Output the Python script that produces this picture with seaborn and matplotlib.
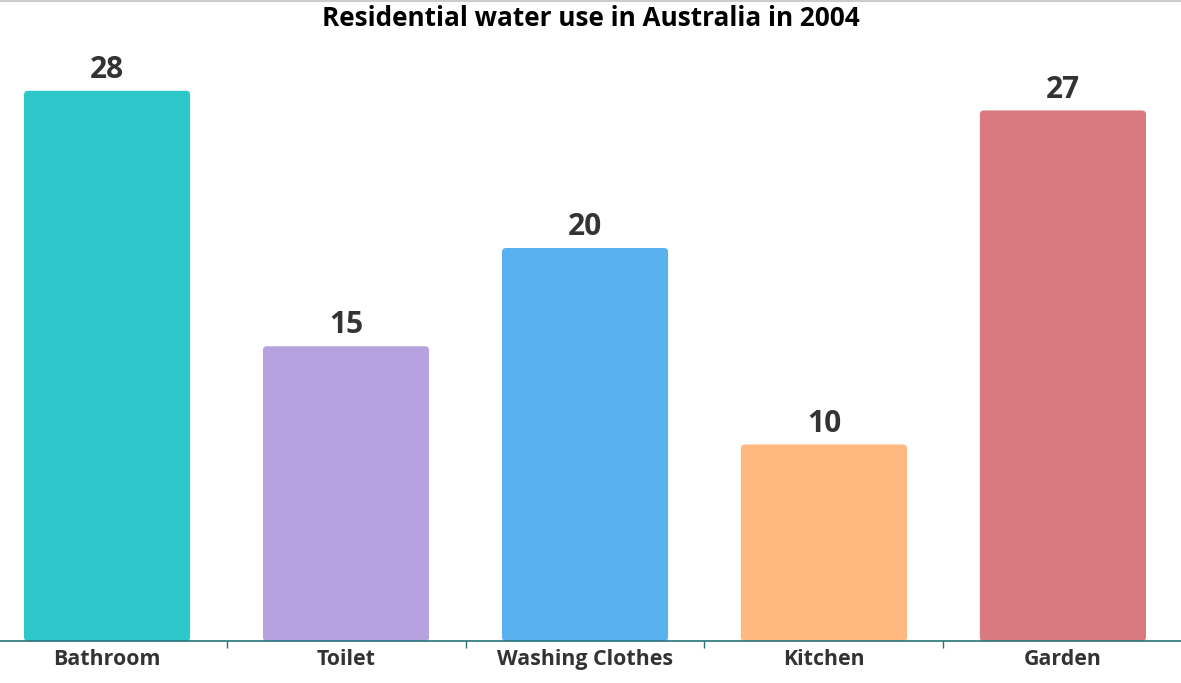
import matplotlib
matplotlib.use("Agg")
import matplotlib.pyplot as plt
from matplotlib.patches import FancyBboxPatch
from matplotlib.lines import Line2D
import seaborn as sns
import pandas as pd

categories = ["Bathroom", "Toilet", "Washing Clothes", "Kitchen", "Garden"]
values = [28, 15, 20, 10, 27]
colors = ["#2EC7C9", "#B6A2DE", "#5AB1EF", "#FFB980", "#D87A80"]

sns.set_theme(style="white")
plt.rcParams["font.family"] = ["Open Sans", "DejaVu Sans"]

df = pd.DataFrame({"category": categories, "value": values})

W, H = 1181, 683
fig = plt.figure(figsize=(W / 100, H / 100), dpi=100)
ax = fig.add_axes([0, 42 / H, 1, (641 - 35) / H])

sns.barplot(data=df, x="category", y="value", hue="category", palette=colors,
            width=0.695, legend=False, saturation=1, ax=ax)

ax.set_xlim(-0.448, 4.494)
ax.set_ylim(0, (641 - 35) / 19.65)

# swap plain rectangles for rounded ones
px_x = 1 / 239.0
px_y = 1 / 19.65
for bar, c in zip(list(ax.patches), colors):
    x, w, h = bar.get_x(), bar.get_width(), bar.get_height()
    bar.remove()
    rp = FancyBboxPatch((x, 0), w, h,
                        boxstyle=f"round,pad=0,rounding_size={4 * px_x}",
                        mutation_aspect=px_y / px_x,
                        facecolor=c, edgecolor="none", zorder=2)
    ax.add_patch(rp)
    ax.text(x + w / 2, h + 0.3, f"{h:g}", ha="center", va="bottom",
            fontsize=21.5, fontweight="bold", color="#333333")

for s in ["top", "right", "left"]:
    ax.spines[s].set_visible(False)
ax.spines["bottom"].set_color("#27727B")
ax.spines["bottom"].set_linewidth(1.2)
ax.spines["bottom"].set_zorder(3)

ax.set_yticks([])
ax.set_xlabel("")
ax.set_ylabel("")
ax.set_xticks([0, 1, 2, 3, 4])
ax.set_xticklabels(categories, fontsize=15.4, fontweight="bold", color="#333333")
ax.tick_params(axis="x", length=0, pad=6)
# separator ticks between categories
ax.set_xticks([0.5, 1.5, 2.5, 3.5], minor=True)
ax.tick_params(axis="x", which="minor", length=5, width=1, color="#27727B",
               direction="out", bottom=True)

fig.text(0.5, 1 - 18 / H, "Residential water use in Australia in 2004",
         ha="center", va="center", fontsize=18.8, fontweight="bold", color="#000000")
fig.add_artist(Line2D([0, 1], [1 - 0.5 / H, 1 - 0.5 / H], transform=fig.transFigure,
                      color="#cccccc", linewidth=1.5))

fig.savefig("out.png", dpi=100)
